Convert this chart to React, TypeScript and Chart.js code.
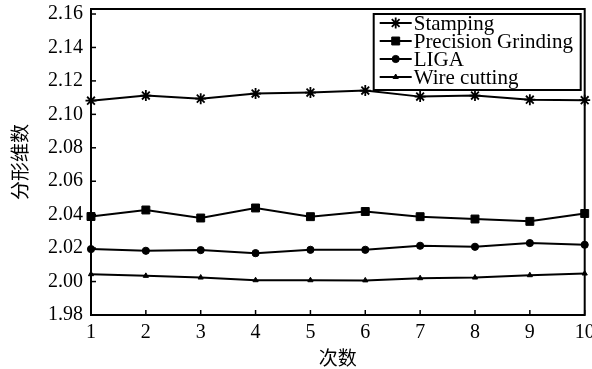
import React, { useEffect, useRef } from "react";
import { Chart, registerables } from "chart.js";
import { drawPoint } from "chart.js/helpers";

Chart.register(...registerables);

const categories = ["1", "2", "3", "4", "5", "6", "7", "8", "9", "10"];
const seriesNames = ["Stamping", "Precision Grinding", "LIGA", "Wire cutting"];
const stamping = [2.1082, 2.1112, 2.1094, 2.1124, 2.113, 2.1142, 2.1106, 2.1112, 2.1088, 2.1085];
const precisionGrinding = [2.0389, 2.0428, 2.038, 2.044, 2.0388, 2.0419, 2.0388, 2.0374, 2.036, 2.0407];
const liga = [2.0194, 2.0184, 2.0188, 2.017, 2.019, 2.019, 2.0214, 2.0208, 2.023, 2.022];
const wireCutting = [2.0044, 2.0034, 2.0024, 2.0008, 2.0008, 2.0007, 2.002, 2.0024, 2.0038, 2.0048];
const yTicks = [1.98, 2.0, 2.02, 2.04, 2.06, 2.08, 2.1, 2.12, 2.14, 2.16];
const yMin = 1.98;
const yMax = 2.163;
const xTitle = "次数";
const yTitle = "分形维数";

const serif = '"Liberation Serif", "Times New Roman", serif';
const cjk = '"Noto Sans CJK SC", sans-serif';

const markers = [
  { pointStyle: "star", radius: 5.5, borderWidth: 1.8 },
  { pointStyle: "rect", radius: 5.6, borderWidth: 1 },
  { pointStyle: "circle", radius: 3.6, borderWidth: 1 },
  { pointStyle: "triangle", radius: 3, borderWidth: 1 },
];

const framePlugin = {
  id: "frame",
  beforeDatasetsDraw(chart: any) {
    const { ctx, chartArea: ca } = chart;
    ctx.save();
    ctx.strokeStyle = "#000";
    ctx.lineWidth = 2;
    ctx.strokeRect(ca.left, ca.top, ca.right - ca.left, ca.bottom - ca.top);
    ctx.lineWidth = 1.5;
    const ys = chart.scales.y;
    ys.ticks.forEach((t: any) => {
      const py = ys.getPixelForValue(t.value);
      ctx.beginPath();
      ctx.moveTo(ca.left, py);
      ctx.lineTo(ca.left + 5, py);
      ctx.stroke();
    });
    const xs = chart.scales.x;
    categories.forEach((_, i) => {
      const px = xs.getPixelForValue(i);
      ctx.beginPath();
      ctx.moveTo(px, ca.bottom);
      ctx.lineTo(px, ca.bottom - 5);
      ctx.stroke();
    });
    ctx.restore();
  },
  afterDraw(chart: any) {
    const { ctx, chartArea: ca } = chart;
    const w = 207;
    const h = 76;
    const x0 = ca.right - 4 - w;
    const y0 = ca.top + 5;
    ctx.save();
    ctx.fillStyle = "#fff";
    ctx.fillRect(x0, y0, w, h);
    ctx.strokeStyle = "#000";
    ctx.lineWidth = 2;
    ctx.strokeRect(x0, y0, w, h);
    ctx.font = `21px ${serif}`;
    ctx.textBaseline = "middle";
    ctx.textAlign = "left";
    seriesNames.forEach((name, i) => {
      const cy = y0 + 9 + i * 18;
      ctx.strokeStyle = "#000";
      ctx.lineWidth = 2;
      ctx.beginPath();
      ctx.moveTo(x0 + 6, cy);
      ctx.lineTo(x0 + 38, cy);
      ctx.stroke();
      ctx.fillStyle = "#000";
      ctx.lineWidth = markers[i].borderWidth;
      drawPoint(ctx, { pointStyle: markers[i].pointStyle as any, radius: markers[i].radius, rotation: 0, borderWidth: markers[i].borderWidth }, x0 + 22, cy);
      ctx.fillStyle = "#000";
      ctx.fillText(name, x0 + 40, cy + 1);
    });
    ctx.restore();
  },
};

export default function App() {
  const ref = useRef<HTMLCanvasElement | null>(null);
  useEffect(() => {
    if (!ref.current) return;
    const seriesData = [stamping, precisionGrinding, liga, wireCutting];
    const chart = new Chart(ref.current, {
      type: "line",
      data: {
        labels: categories,
        datasets: seriesData.map((d, i) => ({
          label: seriesNames[i],
          data: d,
          borderColor: "#000",
          backgroundColor: "#000",
          borderWidth: 2,
          pointStyle: markers[i].pointStyle as any,
          pointRadius: markers[i].radius,
          pointBorderWidth: markers[i].borderWidth,
          pointBorderColor: "#000",
          pointBackgroundColor: "#000",
          tension: 0,
          clip: false as any,
        })),
      },
      options: {
        animation: false,
        responsive: false,
        events: [],
        layout: { padding: { left: 8, top: 9, right: 6, bottom: 0 } },
        plugins: { legend: { display: false }, tooltip: { enabled: false } },
        scales: {
          x: {
            type: "category",
            offset: false,
            grid: { display: false, drawTicks: false },
            border: { display: false },
            ticks: { color: "#000", font: { family: serif, size: 20 }, padding: 6, maxRotation: 0, autoSkip: false },
            title: { display: true, text: xTitle, color: "#000", font: { family: cjk, size: 19 }, padding: { top: 0, bottom: 0 } },
            afterFit: (s: any) => {
              s.height = 54;
              s.paddingLeft = 0;
              s.paddingRight = 0;
            },
          },
          y: {
            type: "linear",
            min: yMin,
            max: yMax,
            grid: { display: false, drawTicks: false },
            border: { display: false },
            afterBuildTicks: (s: any) => {
              s.ticks = yTicks.map((v) => ({ value: v }));
            },
            ticks: {
              color: "#000",
              font: { family: serif, size: 20 },
              padding: 8,
              callback: (v: any) => Number(v).toFixed(2),
            },
            title: { display: true, text: yTitle, color: "#000", font: { family: cjk, size: 19 }, padding: { top: 0, bottom: 0 } },
            afterFit: (s: any) => {
              s.width = 83;
              s.paddingTop = 0;
              s.paddingBottom = 0;
            },
          },
        },
      },
      plugins: [framePlugin],
    });
    return () => chart.destroy();
  }, []);
  return (
    <div style={{ position: "fixed", left: 0, top: 0, width: 592, height: 369, background: "#fff" }}>
      <canvas ref={ref} width={592} height={369} style={{ display: "block" }} />
    </div>
  );
}
